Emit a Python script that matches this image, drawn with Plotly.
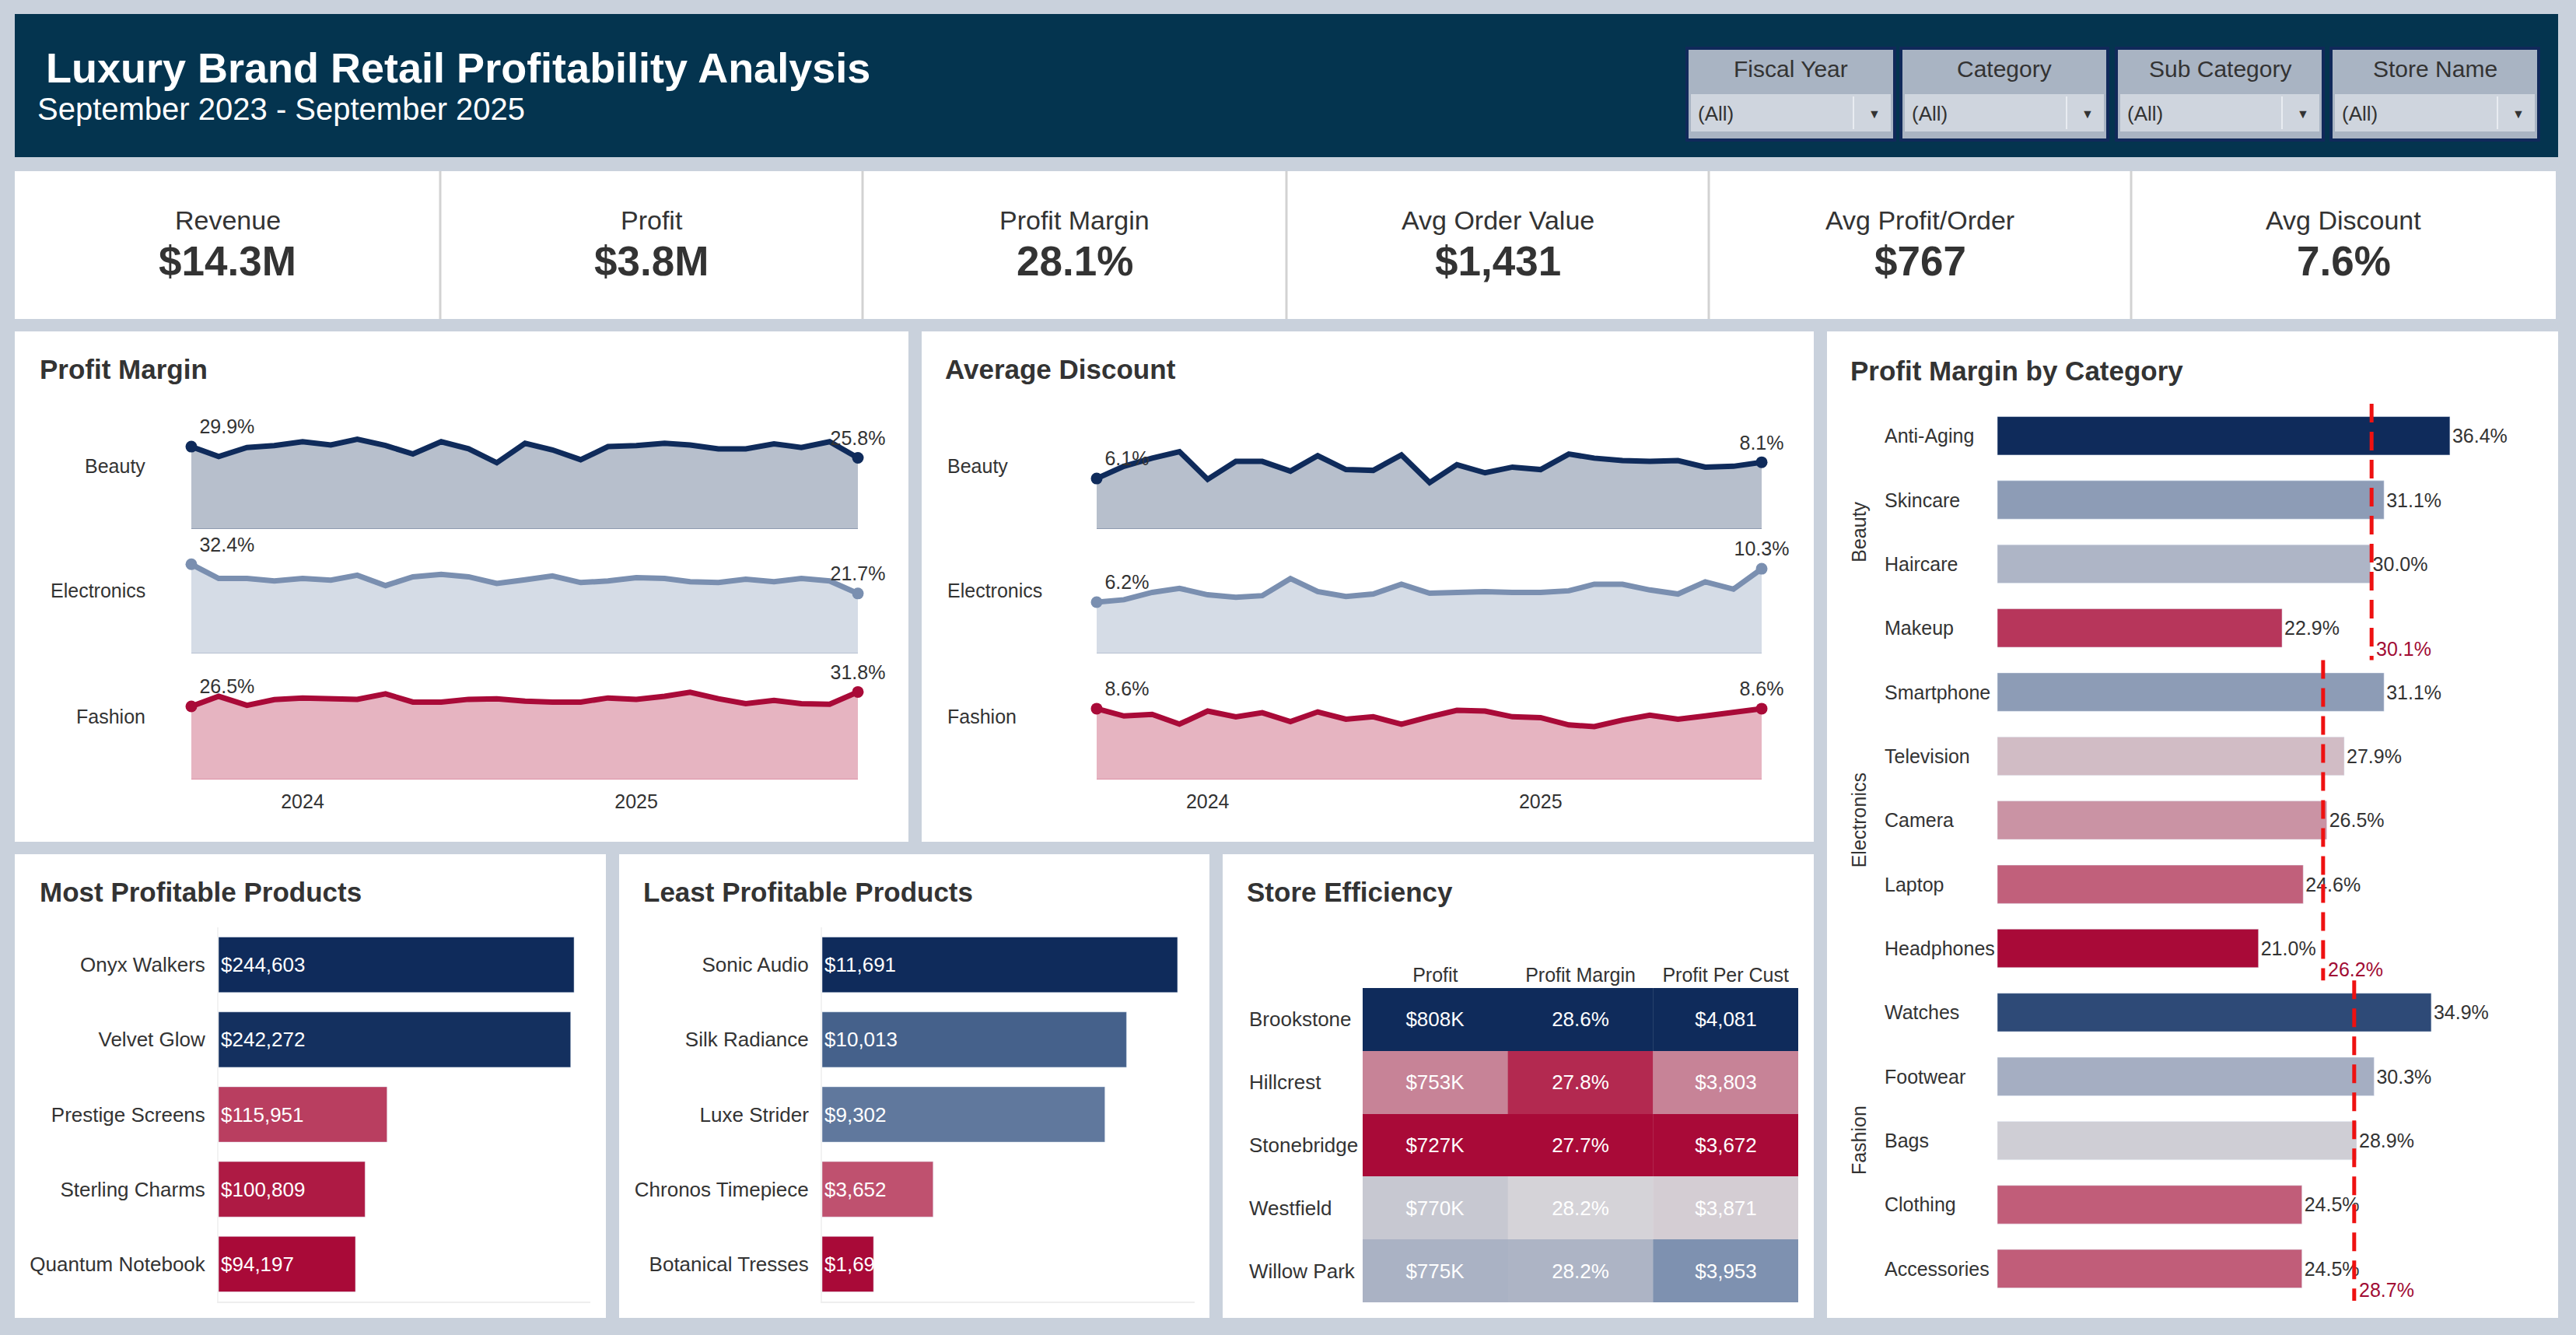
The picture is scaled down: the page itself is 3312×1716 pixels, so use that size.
import plotly.graph_objects as go

W, H = 3312, 1716


def fx(p):
    return p / W


def fy(p):
    return 1 - p / H


# ---- data ----
months = ["2023-09-01", "2023-10-01", "2023-11-01", "2023-12-01", "2024-01-01",
          "2024-02-01", "2024-03-01", "2024-04-01", "2024-05-01", "2024-06-01",
          "2024-07-01", "2024-08-01", "2024-09-01", "2024-10-01", "2024-11-01",
          "2024-12-01", "2025-01-01", "2025-02-01", "2025-03-01", "2025-04-01",
          "2025-05-01", "2025-06-01", "2025-07-01", "2025-08-01", "2025-09-01"]

categories = ["Beauty", "Electronics", "Fashion"]

pm_beauty = [29.9, 26.3, 29.6, 30.3, 31.7, 30.5, 32.6, 30.3, 27.2, 31.7, 29.1, 24.0, 31.1,
             28.7, 25.1, 29.9, 30.3, 31.1, 30.5, 29.1, 29.1, 30.9, 29.6, 31.7, 25.8]
pm_electronics = [32.4, 27.2, 27.2, 26.3, 27.2, 26.6, 28.4, 24.6, 27.8, 28.7, 27.8, 25.4, 26.7,
                  28.1, 25.7, 26.3, 27.5, 27.2, 26.0, 25.7, 26.9, 26.0, 27.2, 26.3, 21.7]
pm_fashion = [26.5, 30.2, 26.9, 29.0, 29.6, 29.3, 29.1, 31.1, 28.1, 28.1, 29.1, 29.3, 28.4,
              28.1, 28.1, 29.6, 29.1, 30.2, 31.7, 29.3, 27.5, 28.7, 27.5, 27.3, 31.8]

ad_beauty = [6.1, 7.6, 8.6, 9.4, 6.0, 8.2, 8.2, 7.0, 8.9, 7.2, 7.1, 9.0, 5.6,
             7.8, 6.8, 7.5, 7.2, 9.1, 8.6, 8.3, 8.2, 8.3, 7.5, 7.6, 8.1]
ad_electronics = [6.2, 6.5, 7.4, 7.9, 7.1, 6.8, 7.0, 9.1, 7.5, 6.9, 7.2, 8.4, 7.3,
                  7.4, 7.5, 7.4, 7.4, 7.6, 8.4, 8.4, 7.7, 7.2, 8.7, 7.8, 10.3]
ad_fashion = [8.6, 7.7, 7.9, 6.7, 8.3, 7.6, 8.1, 7.0, 8.2, 7.3, 7.6, 6.7, 7.6,
              8.4, 8.3, 7.6, 7.5, 6.6, 6.4, 7.2, 7.8, 7.3, 7.7, 8.1, 8.6]

subcats = ["Anti-Aging", "Skincare", "Haircare", "Makeup",
           "Smartphone", "Television", "Camera", "Laptop", "Headphones",
           "Watches", "Footwear", "Bags", "Clothing", "Accessories"]
subcat_margin = [36.4, 31.1, 30.0, 22.9, 31.1, 27.9, 26.5, 24.6, 21.0, 34.9, 30.3, 28.9, 24.5, 24.5]
group_sizes = [4, 5, 5]
group_avg = [30.1, 26.2, 28.7]

top_products = ["Onyx Walkers", "Velvet Glow", "Prestige Screens", "Sterling Charms", "Quantum Notebook"]
top_profit = [244603, 242272, 115951, 100809, 94197]
low_products = ["Sonic Audio", "Silk Radiance", "Luxe Strider", "Chronos Timepiece", "Botanical Tresses"]
low_profit = [11691, 10013, 9302, 3652, 1692]

stores = ["Brookstone", "Hillcrest", "Stonebridge", "Westfield", "Willow Park"]
se_cols = ["Profit", "Profit Margin", "Profit Per Cust"]
store_profit_k = [808, 753, 727, 770, 775]
store_margin = [28.62, 27.78, 27.70, 28.16, 28.24]
store_ppc = [4081, 3803, 3672, 3871, 3953]

kpi_labels = ["Revenue", "Profit", "Profit Margin", "Avg Order Value", "Avg Profit/Order", "Avg Discount"]
kpi_values = ["$14.3M", "$3.8M", "28.1%", "$1,431", "$767", "7.6%"]

filters = ["Fiscal Year", "Category", "Sub Category", "Store Name"]

# ---- styles ----
FONT = "Liberation Sans, Arial, sans-serif"
TXT = "#333333"
DIV = [[0, "#a90a38"], [0.2, "#bf5270"], [0.33, "#c8879a"], [0.5, "#d5d3d8"],
       [0.7, "#788cad"], [0.85, "#3e5b86"], [1, "#0f2b5b"]]
line_cols = ["#0f2b5b", "#7a8fb0", "#a90a38"]
fill_cols = ["#b7bfcc", "#d5dce6", "#e6b4c1"]
edge_cols = ["#8f9bb0", "#b7c1d1", "#dd92a7"]
spark_rows = [(519, 679), (679, 839), (841, 1001)]

fig = go.Figure()
axes = {}
shapes = []
ann = []


def rect(x0, y0, x1, y1, fill, line=None, lw=0, layer="below"):
    shapes.append(dict(type="rect", xref="paper", yref="paper", x0=fx(x0), x1=fx(x1),
                       y0=fy(y1), y1=fy(y0), fillcolor=fill, layer=layer,
                       line=dict(color=line or fill, width=lw)))


def text(x, y, s, size, color=TXT, anchor="left", **kw):
    ann.append(dict(x=fx(x), y=fy(y), xref="paper", yref="paper", text=s, showarrow=False,
                    xanchor=anchor, yanchor="middle", font=dict(size=size, color=color, family=FONT), **kw))


# ---- sparklines ----
def sparks(series_list, xa, y_start, xdom, yrange):
    for i, vals in enumerate(series_list):
        n = y_start + i
        ya = "y" if n == 1 else f"y{n}"
        fig.add_trace(go.Scatter(x=months, y=vals, mode="lines", fill="tozeroy",
                                 fillcolor=fill_cols[i], line=dict(color=line_cols[i], width=7),
                                 cliponaxis=False, xaxis=xa, yaxis=ya, hoverinfo="skip"))
        fig.add_trace(go.Scatter(x=[months[0], months[-1]], y=[vals[0], vals[-1]],
                                 mode="markers+text", marker=dict(color=line_cols[i], size=15),
                                 text=[f"{vals[0]:.1f}%", f"{vals[-1]:.1f}%"],
                                 textposition=["top right", "top center"],
                                 textfont=dict(size=25, color=TXT), cliponaxis=False,
                                 xaxis=xa, yaxis=ya, hoverinfo="skip"))
        t, b = spark_rows[i]
        axes["yaxis" if n == 1 else f"yaxis{n}"] = dict(
            domain=[fy(b), fy(t)], range=yrange, anchor=xa, showgrid=False,
            showticklabels=False, zeroline=True, zerolinecolor=edge_cols[i], zerolinewidth=2)
    key = "xaxis" if xa == "x" else "xaxis" + xa[1:]
    last = y_start + 2
    axes[key] = dict(domain=[fx(xdom[0]), fx(xdom[1])], type="date",
                     range=[months[0], months[-1]], anchor=f"y{last}",
                     tickvals=["2024-01-01", "2025-01-01"], ticktext=["2024", "2025"],
                     showgrid=False, zeroline=False, ticks="", ticklabelstandoff=12,
                     tickfont=dict(size=25, color=TXT))


sparks([pm_beauty, pm_electronics, pm_fashion], "x", 1, (246, 1103), [0, 45.6])
sparks([ad_beauty, ad_electronics, ad_fashion], "x2", 4, (1410, 2265), [0, 15.27])

for i, c in enumerate(categories):
    yc = (spark_rows[i][0] + spark_rows[i][1]) / 2
    text(189, yc, c, 25, anchor="right")
    text(1216, yc, c, 25)

# ---- profit margin by category ----
ypos = list(range(len(subcats)))
fig.add_trace(go.Bar(x=subcat_margin, y=ypos, orientation="h", width=0.6,
                     marker=dict(color=subcat_margin, colorscale=DIV,
                                 cmin=min(subcat_margin), cmax=max(subcat_margin)),
                     text=[f"{v:.1f}%" for v in subcat_margin], textposition="outside",
                     constraintext="none", cliponaxis=False,
                     textfont=dict(size=25, color=TXT), xaxis="x3", yaxis="y7", hoverinfo="skip"))
axes["xaxis3"] = dict(domain=[fx(2568), fx(3265)], range=[0, 43.6], anchor="y7", visible=False)
axes["yaxis7"] = dict(domain=[fy(1672), fy(519)], range=[len(subcats) - 0.5, -0.5], anchor="x3",
                      visible=False)
for i, s in enumerate(subcats):
    ann.append(dict(x=fx(2421), xref="paper", y=i, yref="y7", text=s, showarrow=False,
                    xanchor="left", yanchor="middle", font=dict(size=25, color=TXT, family=FONT)))

start = 0
bounds = [-0.5]
for g, n, avg in zip(categories, group_sizes, group_avg):
    lo, hi = start - 0.5, start + n - 0.5
    bounds.append(hi)
    ann.append(dict(x=fx(2390), xref="paper", y=(lo + hi) / 2, yref="y7", text=g, showarrow=False,
                    textangle=-90, xanchor="center", yanchor="middle",
                    font=dict(size=25, color=TXT, family=FONT)))
    shapes.append(dict(type="line", xref="x3", yref="y7", x0=avg, x1=avg, y0=lo, y1=hi,
                       line=dict(color="#ee1111", width=5, dash="24px,12px"), layer="above"))
    ann.append(dict(x=avg, xref="x3", y=hi, yref="y7", text=f"{avg:.1f}%", showarrow=False,
                    xanchor="left", yanchor="bottom", xshift=4, yshift=-2,
                    font=dict(size=25, color="#a10c34", family=FONT)))
    start += n
for b in bounds:
    shapes.append(dict(type="line", xref="paper", yref="y7", x0=fx(2368), x1=fx(3265), y0=b, y1=b,
                       line=dict(color="#c8c8c8", width=2), layer="below"))


# ---- product bars ----
def product_bars(names, vals, xa, ya, xdom, xmax):
    fig.add_trace(go.Bar(x=vals, y=names, orientation="h", width=0.74,
                         marker=dict(color=vals, colorscale=DIV, cmin=min(vals), cmax=max(vals)),
                         text=[f"${v:,}" for v in vals], textposition="inside",
                         insidetextanchor="start", textangle=0, constraintext="none",
                         textfont=dict(size=26, color="white"),
                         xaxis=xa, yaxis=ya, hoverinfo="skip"))
    axes["xaxis" + xa[1:]] = dict(domain=[fx(xdom[0]), fx(xdom[1])], range=[0, xmax], anchor=ya,
                                  showgrid=False, zeroline=False, showticklabels=False,
                                  showline=True, linecolor="#eeeeee", linewidth=2)
    axes["yaxis" + ya[1:]] = dict(domain=[fy(1673), fy(1192)], anchor=xa, type="category",
                                  categoryorder="array", categoryarray=names, autorange="reversed",
                                  showgrid=False, ticks="", ticklabelstandoff=10,
                                  showline=True, linecolor="#f2f2f2", linewidth=2,
                                  tickfont=dict(size=26, color=TXT))


product_bars(top_products, top_profit, "x4", "y8", (281, 759), 255800)
product_bars(low_products, low_profit, "x5", "y9", (1057, 1536), 12254)

# ---- store efficiency (one heatmap column per measure, own colour range) ----
se_vals = [store_profit_k, store_margin, store_ppc]
se_text = [[f"${v}K" for v in store_profit_k],
           [f"{v:.1f}%" for v in store_margin],
           [f"${v:,}" for v in store_ppc]]
store_idx = list(range(len(stores)))
for j, (vals, txt) in enumerate(zip(se_vals, se_text)):
    fig.add_trace(go.Heatmap(x=[j], y=store_idx, z=[[v] for v in vals], text=[[t] for t in txt],
                             texttemplate="%{text}", textfont=dict(size=26, color="white"),
                             colorscale=DIV, zmin=min(vals), zmax=max(vals), showscale=False,
                             xgap=0, ygap=0, xaxis="x6", yaxis="y10", hoverinfo="skip"))
axes["xaxis6"] = dict(domain=[fx(1752), fx(2312)], anchor="y10", side="top",
                      range=[-0.5, len(se_cols) - 0.5], tickvals=list(range(len(se_cols))),
                      ticktext=se_cols, tickangle=0, showgrid=False, ticks="", zeroline=False,
                      tickfont=dict(size=25, color=TXT), ticklabelstandoff=2)
axes["yaxis10"] = dict(domain=[fy(1674), fy(1270)], anchor="x6",
                       range=[len(stores) - 0.5, -0.5], showgrid=False, zeroline=False,
                       showticklabels=False, ticks="")
for i, s in enumerate(stores):
    ann.append(dict(x=fx(1604), xref="paper", y=i, yref="y10", text=s, showarrow=False,
                    xanchor="left", yanchor="middle", font=dict(size=26, color=TXT, family=FONT)))

# ---- background panels ----
rect(19, 18, 3289, 202, "#04344f")
rect(19, 220, 3286, 410, "#ffffff")
for x0, y0, x1, y1 in [(19, 426, 1168, 1082), (1185, 426, 2332, 1082), (2349, 426, 3289, 1694),
                       (19, 1098, 779, 1694), (796, 1098, 1555, 1694), (1572, 1098, 2332, 1694)]:
    rect(x0, y0, x1, y1, "#ffffff")

# KPI strip
kpi_edges = [19, 566, 1109, 1654, 2197, 2740, 3286]
for i, (lab, val) in enumerate(zip(kpi_labels, kpi_values)):
    xc = (kpi_edges[i] + kpi_edges[i + 1]) / 2
    text(xc, 283, lab, 34, anchor="center")
    text(xc, 335, f"<b>{val}</b>", 53, anchor="center")
for xe in kpi_edges[1:-1]:
    shapes.append(dict(type="line", xref="paper", yref="paper", x0=fx(xe), x1=fx(xe),
                       y0=fy(410), y1=fy(220), line=dict(color="#d2d2d2", width=3), layer="below"))

# header
text(57, 87, "<b>Luxury Brand Retail Profitability Analysis</b>", 54, color="#ffffff")
text(46, 140, "September 2023 - September 2025", 40, color="#ffffff")
filter_boxes = [(2169, 2436), (2444, 2710), (2721, 2987), (2997, 3264)]
for name, (x0, x1) in zip(filters, filter_boxes):
    rect(x0, 62, x1, 180, "#a9b4c3", line="#10295a", lw=4)
    rect(x0 + 5, 121, x1 - 5, 169, "#cfd5de")
    shapes.append(dict(type="line", xref="paper", yref="paper", x0=fx(x1 - 53), x1=fx(x1 - 53),
                       y0=fy(166), y1=fy(124), line=dict(color="#e9ecf1", width=2), layer="below"))
    text((x0 + x1) / 2, 88, name, 30, anchor="center")
    text(x0 + 12, 146, "(All)", 26)
    text(x1 - 26, 146, "▼", 16, anchor="center")

# panel titles
for x, y, t in [(49, 475, "Profit Margin"), (1213, 475, "Average Discount"),
                (2377, 476, "Profit Margin by Category"), (49, 1146, "Most Profitable Products"),
                (825, 1146, "Least Profitable Products"), (1601, 1146, "Store Efficiency")]:
    text(x, y, f"<b>{t}</b>", 35)

fig.update_layout(
    width=W, height=H, autosize=False,
    margin=dict(l=0, r=0, t=0, b=0),
    paper_bgcolor="#c9d1dc", plot_bgcolor="rgba(0,0,0,0)",
    font=dict(family=FONT, color=TXT),
    showlegend=False, hovermode=False,
    shapes=shapes, annotations=ann,
    **axes,
)

fig.write_html("out.html", config={"displayModeBar": False},
               post_script="document.body.style.margin='0px';")
